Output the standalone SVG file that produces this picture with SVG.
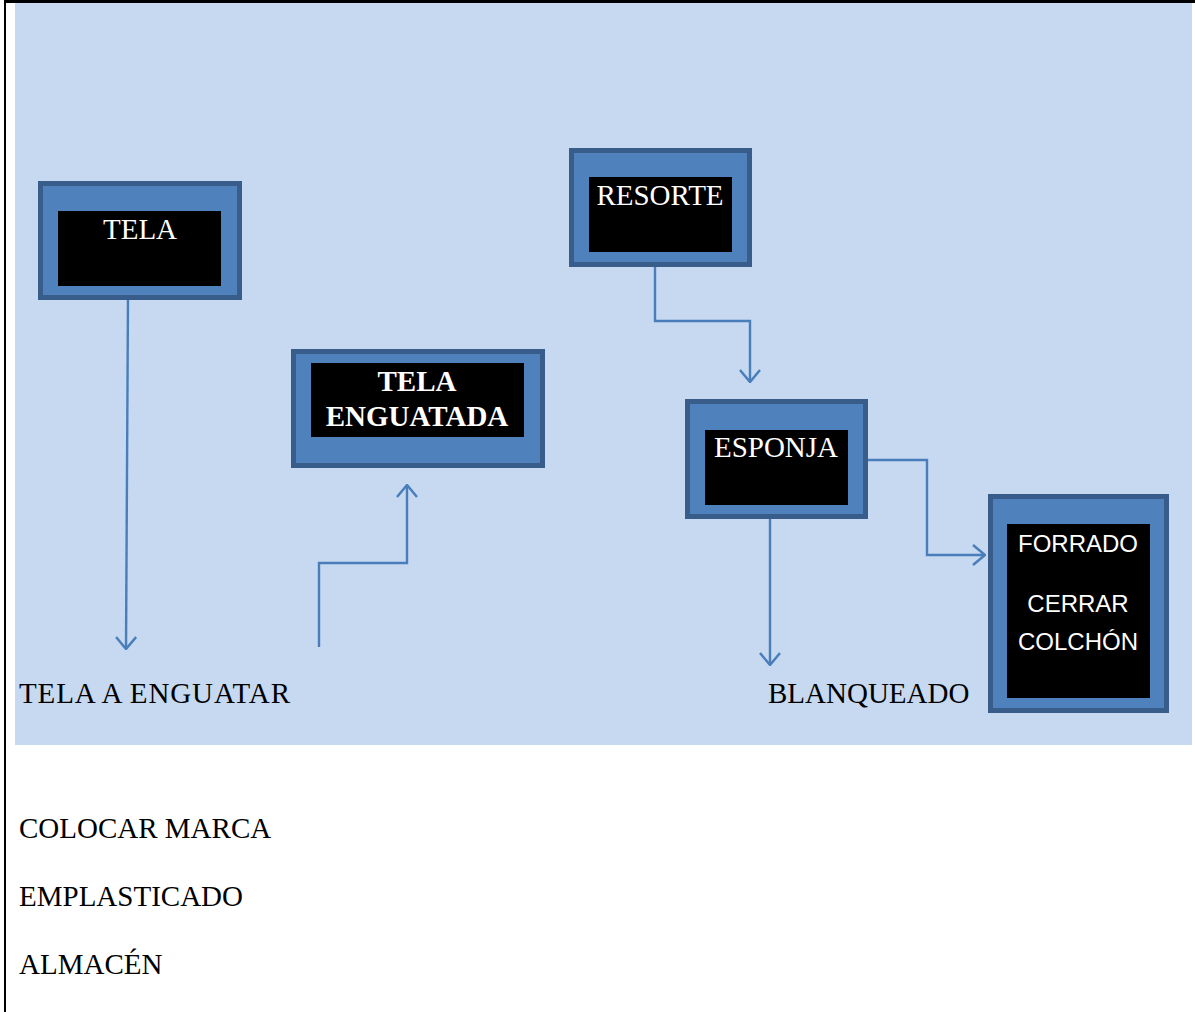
<svg xmlns="http://www.w3.org/2000/svg" width="1195" height="1012" viewBox="0 0 1195 1012">
<style>
.frame{fill:#4F81BD;stroke:#385D8A;stroke-width:5}
.inner{fill:#000}
.wt{fill:#fff;font-family:"Liberation Serif",serif;font-size:29px;text-anchor:middle}
.wb{fill:#fff;font-family:"Liberation Serif",serif;font-size:29px;font-weight:bold;text-anchor:middle}
.ws{fill:#fff;font-family:"Liberation Sans",sans-serif;font-size:24px;text-anchor:middle}
.lbl{fill:#000;font-family:"Liberation Serif",serif;font-size:29px}
.con{fill:none;stroke:#4A7EBB;stroke-width:2.4}
</style>
<defs>
<marker id="arr" viewBox="0 0 14 22" refX="13" refY="11" markerWidth="14" markerHeight="22" markerUnits="userSpaceOnUse" orient="auto">
<path d="M1,1 L13,11 L1,21" fill="none" stroke="#4A7EBB" stroke-width="2.5"/>
</marker>
</defs>
<rect x="0" y="0" width="1195" height="1012" fill="#fff"/>
<rect x="15" y="3" width="1177" height="742" fill="#C6D9F1"/>
<line x1="5" y1="1" x2="5" y2="1012" stroke="#000" stroke-width="2"/>
<line x1="4" y1="1.5" x2="1195" y2="1.5" stroke="#000" stroke-width="3"/>

<g id="connectors">
<path class="con" d="M128,296 L126,649" marker-end="url(#arr)"/>
<path class="con" d="M319,647 L319,563 L407,563 L407,485" marker-end="url(#arr)"/>
<path class="con" d="M655,262 L655,321 L750,321 L750,382" marker-end="url(#arr)"/>
<path class="con" d="M866,460 L927,460 L927,555 L985,555" marker-end="url(#arr)"/>
<path class="con" d="M770,517 L770,665" marker-end="url(#arr)"/>
</g>

<g id="tela">
<rect class="frame" x="40.5" y="183.5" width="199" height="114"/>
<rect class="inner" x="58" y="211" width="163" height="75"/>
<text class="wt" x="140" y="239">TELA</text>
</g>

<g id="tela-enguatada">
<rect class="frame" x="293.5" y="351.5" width="249" height="114"/>
<rect class="inner" x="311" y="363" width="213" height="74"/>
<text class="wb" x="417" y="391">TELA</text>
<text class="wb" x="417" y="426">ENGUATADA</text>
</g>

<g id="resorte">
<rect class="frame" x="571.5" y="150.5" width="178" height="114"/>
<rect class="inner" x="589" y="177" width="143" height="75"/>
<text class="wt" x="660" y="205">RESORTE</text>
</g>

<g id="esponja">
<rect class="frame" x="687.5" y="401.5" width="178" height="115"/>
<rect class="inner" x="705" y="430" width="143" height="75"/>
<text class="wt" x="776" y="457">ESPONJA</text>
</g>

<g id="forrado">
<rect class="frame" x="990.5" y="496.5" width="176" height="214"/>
<rect class="inner" x="1007" y="524" width="143" height="174"/>
<text class="ws" x="1078" y="552">FORRADO</text>
<text class="ws" x="1078" y="612">CERRAR</text>
<text class="ws" x="1078" y="650">COLCHÓN</text>
</g>

<g id="labels">
<text class="lbl" x="19" y="703" textLength="271" lengthAdjust="spacing">TELA A ENGUATAR</text>
<text class="lbl" x="768" y="703">BLANQUEADO</text>
<text class="lbl" x="19" y="838">COLOCAR MARCA</text>
<text class="lbl" x="19" y="906">EMPLASTICADO</text>
<text class="lbl" x="19" y="974">ALMACÉN</text>
</g>
</svg>
